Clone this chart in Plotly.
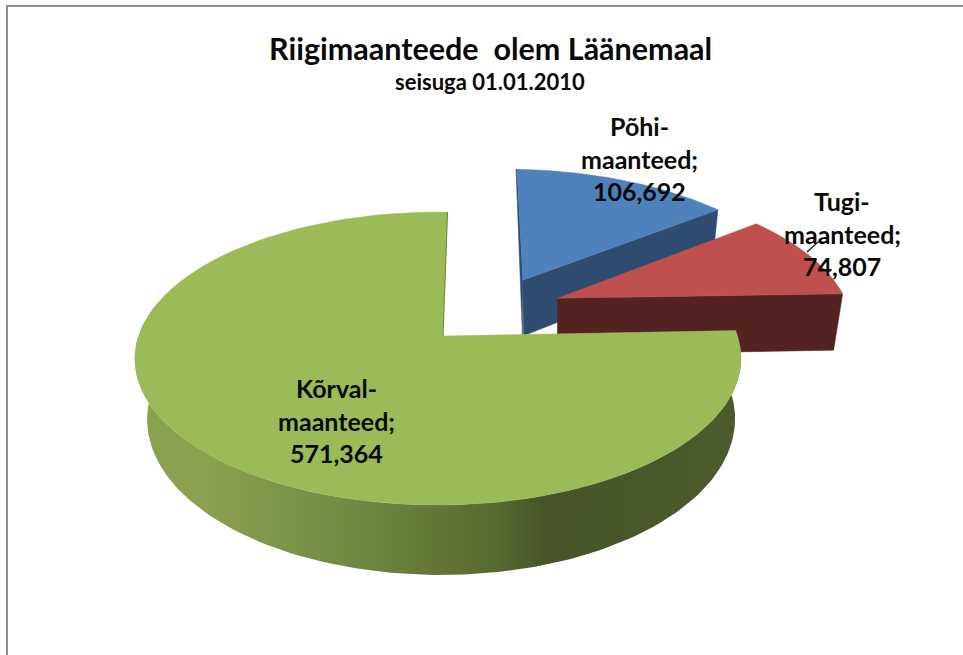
import numpy as np
import plotly.graph_objects as go

# data
categories = ["Põhi-maanteed", "Tugi-maanteed", "Kõrval-maanteed"]
label_lines = [["Põhi-", "maanteed;"], ["Tugi-", "maanteed;"], ["Kõrval-", "maanteed;"]]
values = [106.692, 74.807, 571.364]
title_text = "Riigimaanteede  olem Läänemaal"
subtitle_text = "seisuga 01.01.2010"

# look
top_colors = ["#4f81bd", "#c0504d", "#9bbb59"]
wall_colors = ["#2e4b70", "#522320", None]
FONT = "Lato, Carlito, Calibri, sans-serif"
W, H = 963, 655
CX, CY, A, B, K, M = 443, 336, 299.4, 143, 0.1536, -0.0165   # projection of the pie disc
DEPTH, SHRINK, RIM_DX = 59.2, 0.97, 3
FIRST_ANGLE = np.deg2rad(1.0)
explode = [(0.285, -0.417), (0.402, -0.277), (0.0, 0.0)]
radius = [1.01, 1.03, 1.0]


def top(u, v):
    d = 1 - K * v - M * u
    return CX + A * u / d, CY + B * v / d


def bottom(u, v):
    x, y = top(u, v)
    return CX + (x - CX) * SHRINK + RIM_DX, y + DEPTH / (1 - K * v)


fractions = np.array(values) / sum(values)
edges = np.concatenate([[0], np.cumsum(fractions)]) * 2 * np.pi + FIRST_ANGLE

fig = go.Figure()

for i, name in enumerate(categories):
    a0, a1 = edges[i], edges[i + 1]
    off = explode[i]
    r = radius[i]
    t = np.linspace(a0, a1, 120)
    u, v = r * np.sin(t) + off[0], -r * np.cos(t) + off[1]
    ax, ay = top(off[0], off[1])
    tx, ty = top(u, v)
    if wall_colors[i]:
        # radial wall on the clockwise end of the slice
        ue, ve = r * np.sin(a1) + off[0], -r * np.cos(a1) + off[1]
        p1, p2 = top(ue, ve), bottom(ue, ve)
        p3 = bottom(off[0], off[1])
        fig.add_trace(go.Scatter(
            x=[ax, p1[0], p2[0], p3[0], ax], y=[ay, p1[1], p2[1], p3[1], ay],
            mode="lines", fill="toself", fillcolor=wall_colors[i],
            line=dict(width=0.5, color=wall_colors[i]), hoverinfo="skip", showlegend=False))
        if i == 0:
            # thin dark sliver along the start edge of the blue slice
            ex, ey = top(r * np.sin(a0) + off[0], -r * np.cos(a0) + off[1])
            fig.add_trace(go.Scatter(
                x=[ex, ax, p3[0] - 1, ex - 1, ex], y=[ey, ay, p3[1], ey, ey],
                mode="lines", fill="toself", fillcolor=wall_colors[i],
                line=dict(width=0.5, color=wall_colors[i]), hoverinfo="skip", showlegend=False))
    else:
        # outer rim with the lighting gradient
        rim_t = np.linspace(a0, np.deg2rad(282), 160)
        ur, vr = np.sin(rim_t) + off[0], -np.cos(rim_t) + off[1]
        rx, ry = top(ur, vr)
        bx, by = bottom(ur, vr)
        fig.add_trace(go.Scatter(
            x=np.concatenate([rx, bx[::-1]]), y=np.concatenate([ry, by[::-1]]),
            mode="lines", line=dict(width=0), fill="toself",
            fillgradient=dict(type="horizontal", colorscale=[
                [0.0, "#8aa24f"], [0.12, "#8aa24f"], [0.35, "#728a42"],
                [0.6, "#56692f"], [0.68, "#465427"], [1.0, "#4b5b2b"]]),
            hoverinfo="skip", showlegend=False))
    fig.add_trace(go.Scatter(
        x=np.concatenate([[ax], tx, [ax]]), y=np.concatenate([[ay], ty, [ay]]),
        mode="lines", fill="toself", fillcolor=top_colors[i],
        line=dict(width=0.5, color=top_colors[i]), name=name,
        hoverinfo="name", showlegend=False))
    if i == 2:
        ex, ey = top(np.sin(a1) + off[0], -np.cos(a1) + off[1])
        fig.add_trace(go.Scatter(x=[ax, ex], y=[ay, ey], mode="lines",
                                 line=dict(width=1, color="#70883f"),
                                 hoverinfo="skip", showlegend=False))

# leader line of the red label
fig.add_trace(go.Scatter(x=[807, 818, 829], y=[252, 242, 242], mode="lines",
                         line=dict(width=1.2, color="#111111"),
                         hoverinfo="skip", showlegend=False))


def txt(x, y, s, size):
    fig.add_annotation(x=x, y=y, xref="x", yref="y", text=f"<b>{s}</b>", showarrow=False,
                       font=dict(family=FONT, size=size, color="#0a0a0a"),
                       xanchor="center", yanchor="middle")


txt(490, 48, title_text, 30.5)
txt(490, 81, subtitle_text, 22)

label_pos = [(639, 126), (842, 201), (336, 388)]
for (x, y), lines, val in zip(label_pos, label_lines, values):
    rows = lines + [f"{val:.3f}".replace(".", ",")]
    for j, r in enumerate(rows):
        txt(x, y + j * 32.5, r, 25)

fig.add_shape(type="line", x0=7, x1=7, y0=6, y1=H, line=dict(color="#8e8e8e", width=2))
fig.add_shape(type="line", x0=6, x1=W, y0=6, y1=6, line=dict(color="#8e8e8e", width=2))

fig.update_xaxes(range=[0, W], visible=False)
fig.update_yaxes(range=[H, 0], visible=False)
fig.update_layout(width=W, height=H, margin=dict(l=0, r=0, t=0, b=0),
                  paper_bgcolor="white", plot_bgcolor="white", showlegend=False)
fig.write_html("out.html", config={"displayModeBar": False},
               post_script="document.body.style.margin='0';document.body.style.overflow='hidden';")
